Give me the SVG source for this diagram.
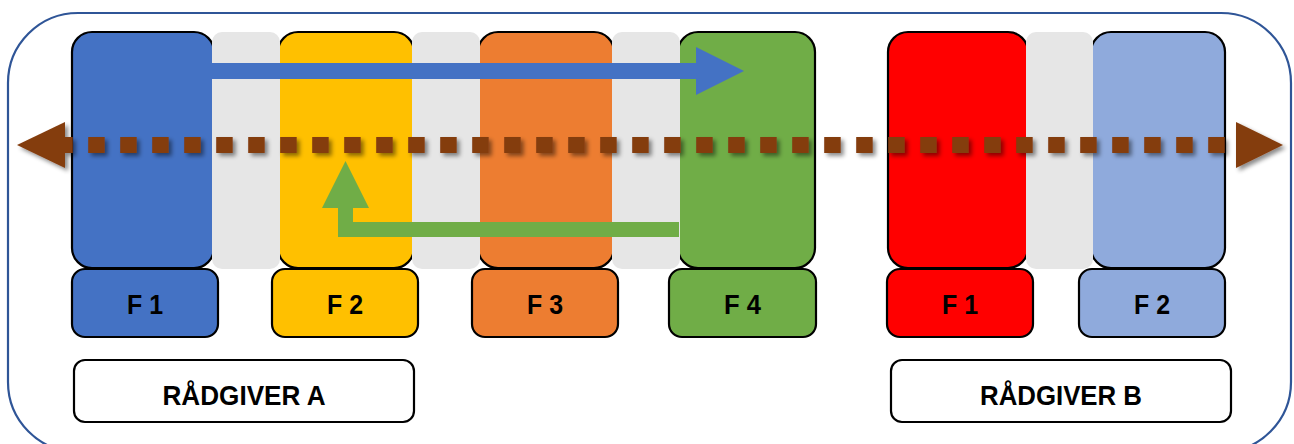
<svg xmlns="http://www.w3.org/2000/svg" width="1294" height="444" viewBox="0 0 1294 444">
  <defs>
    <style>
      .blk { stroke: #000; stroke-width: 2.2; }
      .gap { fill: #E6E6E6; }
      .lbl { stroke: #000; stroke-width: 2.2; }
      .txt { font-family: "Liberation Sans", Arial, sans-serif; font-weight: bold; font-size: 28px; fill: #000; text-anchor: middle; }
    </style>
    <filter id="shadow" x="-5%" y="-50%" width="110%" height="200%">
      <feDropShadow dx="3" dy="3" stdDeviation="2" flood-color="#000" flood-opacity="0.45"/>
    </filter>
  </defs>

  <rect id="frame" x="8" y="13" width="1283" height="439" rx="70" ry="70" fill="#fff" stroke="#2F5597" stroke-width="2.2"/>

  <g id="phases-a">
    <rect id="blockA1" class="blk" x="72" y="32" width="142" height="236" rx="20" fill="#4472C4"/>
    <rect id="blockA2" class="blk" x="278" y="32" width="136" height="236" rx="20" fill="#FFC000"/>
    <rect id="blockA3" class="blk" x="478" y="32" width="136" height="236" rx="20" fill="#ED7D31"/>
    <rect id="blockA4" class="blk" x="678" y="32" width="137" height="236" rx="20" fill="#70AD47"/>
    <rect class="gap" x="212" y="32" width="68" height="237" rx="10"/>
    <rect class="gap" x="412" y="32" width="68" height="237" rx="10"/>
    <rect class="gap" x="612" y="32" width="68" height="237" rx="10"/>
  </g>

  <g id="phases-b">
    <rect id="blockB1" class="blk" x="888" y="32" width="140" height="236" rx="20" fill="#FF0000"/>
    <rect id="blockB2" class="blk" x="1091" y="32" width="134" height="236" rx="20" fill="#8FAADC"/>
    <rect class="gap" x="1026" y="32" width="67" height="237" rx="10"/>
  </g>

  <g id="connectors">
    <polygon id="arrow-blue" fill="#4472C4" points="212,63 696,63 696,47 744,71 696,95 696,79 212,79"/>
    <polygon id="arrow-green" fill="#70AD47" points="679,222 353,222 353,208 369,208 345.5,161 322,208 338,208 338,237 679,237"/>
    <g id="arrow-brown" filter="url(#shadow)">
      <line x1="56.2" y1="145" x2="1236" y2="145" stroke="#843C0C" stroke-width="16" stroke-dasharray="16.5 15.5"/>
      <polygon fill="#843C0C" points="65,122 17,145 65,168"/>
      <polygon fill="#843C0C" points="1236,122 1283,145 1236,168"/>
    </g>
  </g>

  <g id="label-f1-a">
    <rect class="lbl" x="72" y="269" width="146" height="68" rx="13" fill="#4472C4"/>
    <text class="txt" x="145" y="313.5" textLength="36" lengthAdjust="spacingAndGlyphs">F 1</text>
  </g>
  <g id="label-f2-a">
    <rect class="lbl" x="272" y="269" width="146" height="68" rx="13" fill="#FFC000"/>
    <text class="txt" x="345" y="313.5" textLength="36" lengthAdjust="spacingAndGlyphs">F 2</text>
  </g>
  <g id="label-f3-a">
    <rect class="lbl" x="472" y="269" width="146" height="68" rx="13" fill="#ED7D31"/>
    <text class="txt" x="545" y="313.5" textLength="36" lengthAdjust="spacingAndGlyphs">F 3</text>
  </g>
  <g id="label-f4-a">
    <rect class="lbl" x="669" y="269" width="147" height="68" rx="13" fill="#70AD47"/>
    <text class="txt" x="742.5" y="313.5" textLength="37" lengthAdjust="spacingAndGlyphs">F 4</text>
  </g>
  <g id="label-f1-b">
    <rect class="lbl" x="887" y="269" width="146" height="68" rx="13" fill="#FF0000"/>
    <text class="txt" x="960" y="313.5" textLength="36" lengthAdjust="spacingAndGlyphs">F 1</text>
  </g>
  <g id="label-f2-b">
    <rect class="lbl" x="1079" y="269" width="146" height="68" rx="13" fill="#8FAADC"/>
    <text class="txt" x="1152" y="313.5" textLength="36" lengthAdjust="spacingAndGlyphs">F 2</text>
  </g>

  <g id="advisor-a">
    <rect class="lbl" x="74" y="360" width="340" height="62" rx="11" fill="#fff"/>
    <text class="txt" x="244" y="405" textLength="163" lengthAdjust="spacingAndGlyphs">RÅDGIVER A</text>
  </g>
  <g id="advisor-b">
    <rect class="lbl" x="891" y="360" width="340" height="62" rx="11" fill="#fff"/>
    <text class="txt" x="1061" y="405" textLength="162" lengthAdjust="spacingAndGlyphs">RÅDGIVER B</text>
  </g>
</svg>
